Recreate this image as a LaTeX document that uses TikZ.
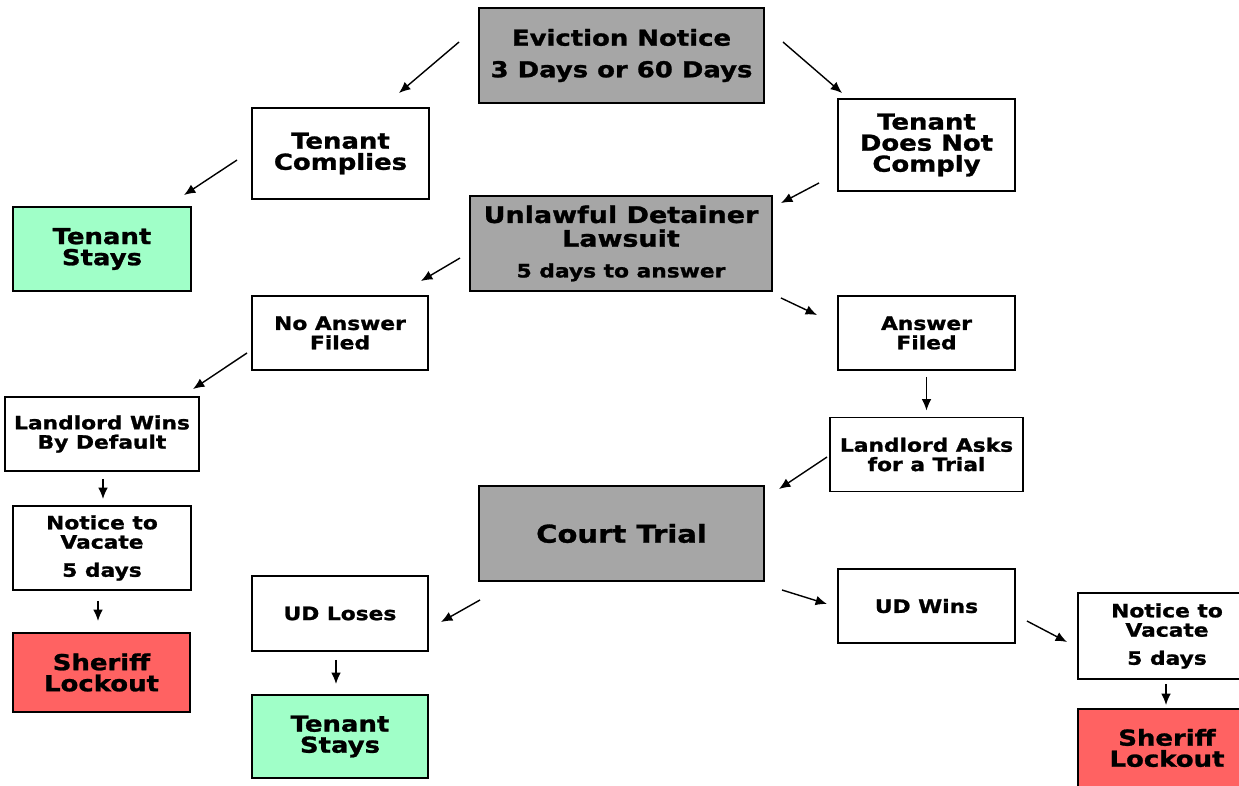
\documentclass[tikz,border=0pt]{standalone}
\usepackage{fontspec}
\setmainfont{DejaVu Sans}[FakeStretch=1.18,BoldFeatures={FakeBold=1.2}]
\usetikzlibrary{arrows.meta,calc}
\definecolor{legalgrey}{HTML}{A6A6A6}
\definecolor{staygreen}{HTML}{A0FFC8}
\definecolor{lockred}{HTML}{FF6262}
\tikzset{
    box/.style =    {rectangle,
                    fill=white,
                    draw=black,
                    text=black,
                    line width=1.1pt,
                    inner sep=0pt,
                    align=center,
                    font=\bfseries\fontsize{10.5}{11}\selectfont},
    wh/.style 2 args = {minimum width=#1*0.02cm,
                    minimum height=#2*0.02cm},
    big/.style =    {font=\bfseries\fontsize{12.5}{12}\selectfont},
    court/.style =  {box,
                    big,
                    fill=legalgrey},
    stay/.style =   {box,
                    big,
                    fill=staygreen},
    lock/.style =   {box,
                    big,
                    fill=lockred},
    -,
    >={Latex[length=6.5pt,width=5.5pt]},
    flow/.style =   {->,
                    line width=0.8pt}}

\begin{document}
\begin{tikzpicture}[x=0.02cm,y=-0.02cm]
                \useasboundingbox (0,0) rectangle (1239,785);
                % boxes
                \node[court, wh={285}{95}]          (notice)    at (621.5,55.5)  {Eviction Notice\\[6pt]3 Days or 60 Days};
                \node[box, big, wh={177}{91}]       (comply)    at (340.5,153.5) {Tenant\\Complies};
                \node[box, big, wh={177}{92}]       (nocomply)  at (926.5,145)   {Tenant\\Does Not\\Comply};
                \node[stay, wh={178}{84}]           (stay1)     at (102,249)     {Tenant\\Stays};
                \node[court, wh={302}{95}, font=\bfseries\fontsize{13}{13.5}\selectfont]
                                                    (lawsuit)   at (621,243.5)   {Unlawful Detainer\\Lawsuit\\[4pt]{\fontsize{10.5}{11}\selectfont 5 days to answer}};
                \node[box, wh={176}{74}]            (noanswer)  at (340,333)     {No Answer\\Filed};
                \node[box, wh={177}{74}]            (answer)    at (926.5,333)   {Answer\\Filed};
                \node[box, wh={194}{74}]            (default)   at (102,434)     {Landlord Wins\\By Default};
                \node[box, wh={193}{74}]            (asks)      at (926.5,454.5) {Landlord Asks\\for a Trial};
                \node[box, wh={178}{84}]            (vacate1)   at (102,548)     {Notice to\\Vacate\\[5pt]5 days};
                \node[court, wh={285}{95}, font=\bfseries\fontsize{14}{14}\selectfont]
                                                    (trial)     at (621.5,533.5) {Court Trial};
                \node[box, wh={176}{75}]            (loses)     at (340,613.5)   {UD Loses};
                \node[box, wh={177}{74}]            (wins)      at (926.5,606)   {UD Wins};
                \node[box, wh={178}{86}]            (vacate2)   at (1167,636)    {Notice to\\Vacate\\[5pt]5 days};
                \node[lock, wh={177}{79}]           (lockout1)  at (101.5,672.5) {Sheriff\\Lockout};
                \node[stay, wh={176}{83}]           (stay2)     at (340,736.5)   {Tenant\\Stays};
                \node[lock, wh={178}{78}]           (lockout2)  at (1167,748)    {Sheriff\\Lockout};
                % arrows
                \path [flow]    ($(notice.west)+(-19,-13.5)$)     edge ($(comply.north east)+(-31,-14)$)
                                ($(notice.east)+(18,-13.5)$)      edge ($(nocomply.north west)+(5,-5)$)
                                ($(comply.west)+(-14,6.5)$)       edge ($(stay1.north east)+(-8,-11)$)
                                ($(nocomply.south west)+(-18,-9)$) edge ($(lawsuit.north east)+(8,8)$)
                                ($(lawsuit.west)+(-9,14.5)$)      edge ($(noanswer.north east)+(-8,-14)$)
                                ($(lawsuit.south east)+(8,6)$)    edge ($(answer.north west)+(-20,20)$)
                                ($(noanswer.south west)+(-4,-18)$) edge ($(default.north east)+(-7,-7)$)
                                ($(answer.south)+(0,6)$)          edge ($(asks.north)+(0,-6)$)
                                ($(default.south)+(1,7)$)         edge ($(vacate1.north)+(1,-6)$)
                                ($(vacate1.south)+(-4,10)$)       edge ($(lockout1.north)+(-3.5,-11)$)
                                ($(asks.west)+(-2,2.5)$)          edge ($(trial.north east)+(14,4)$)
                                ($(trial.south west)+(2,18)$)     edge ($(loses.east)+(12,8.5)$)
                                ($(trial.south east)+(17,8)$)     edge ($(wins.west)+(-10,-2)$)
                                ($(loses.south)+(-4,8)$)          edge ($(stay2.north)+(-4,-10)$)
                                ($(wins.east)+(11,15)$)           edge ($(vacate2.west)+(-10,6)$)
                                ($(vacate2.south)+(-1,4)$)        edge ($(lockout2.north)+(-1,-3)$);
        \end{tikzpicture}
\end{document}
